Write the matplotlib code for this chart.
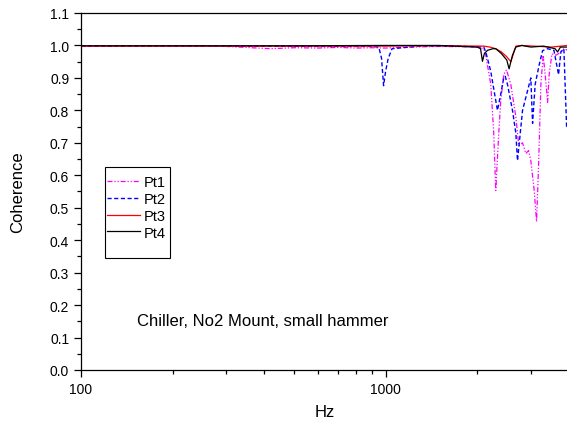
import matplotlib
matplotlib.use("Agg")
import matplotlib.pyplot as plt
from matplotlib.patches import Rectangle
from matplotlib.ticker import FixedLocator, NullFormatter, MultipleLocator, FormatStrFormatter

plt.rcParams['font.family'] = ['Liberation Sans', 'DejaVu Sans']

# ---- data ----
pt1_f = [100, 200, 300, 380, 420, 500, 600, 700, 800, 900, 1000, 1200, 1500, 1800, 2000,
         2100, 2133, 2215, 2265, 2300, 2353, 2388, 2443, 2494, 2577, 2677, 2738, 2816,
         2887, 2946, 2998, 3076, 3131, 3179, 3235, 3291, 3342, 3404, 3444, 3516, 3625,
         3700, 3849, 3970]
pt1_c = [0.997, 0.998, 0.997, 0.992, 0.990, 0.993, 0.992, 0.994, 0.992, 0.993, 0.992,
         0.995, 0.997, 0.996, 0.995,
         0.990, 0.970, 0.880, 0.730, 0.553, 0.730, 0.830, 0.910, 0.925, 0.880, 0.780,
         0.690, 0.700, 0.667, 0.676, 0.645, 0.553, 0.457, 0.630, 0.880, 0.970, 0.910,
         0.825, 0.910, 0.974, 0.970, 0.975, 0.990, 0.985]

pt2_f = [100, 300, 600, 900, 950, 970, 985, 1000, 1020, 1050, 1300, 1700, 2100,
         2133, 2215, 2300, 2330, 2388, 2443, 2470, 2513, 2610, 2677, 2711, 2816, 2924,
         2998, 3038, 3098, 3193, 3277, 3404, 3570, 3697, 3763, 3849, 3929, 3970]
pt2_c = [0.998, 0.998, 0.997, 0.997, 0.995, 0.960, 0.876, 0.920, 0.960, 0.990, 0.998,
         0.998, 0.995,
         0.980, 0.920, 0.830, 0.800, 0.850, 0.900, 0.905, 0.880, 0.800, 0.730, 0.645,
         0.800, 0.860, 0.900, 0.760, 0.880, 0.940, 0.984, 0.990, 0.985, 0.910, 0.980,
         0.990, 0.750, 0.750]

pt3_f = [100, 500, 1000, 1500, 2100, 2200, 2300, 2400, 2500, 2577, 2620, 2677, 2800,
         3500, 3970]
pt3_c = [0.998, 0.998, 0.998, 0.999, 0.998, 0.995, 0.990, 0.980, 0.965, 0.950, 0.970,
         0.998, 1.000, 0.995, 1.000]

pt4_f = [100, 500, 1000, 1500, 2000, 2050, 2080, 2110, 2161, 2250, 2300, 2400, 2500,
         2544, 2610, 2677, 2800, 3000, 3300, 3600, 3670, 3750, 3970]
pt4_c = [0.999, 0.999, 1.000, 1.000, 0.995, 0.990, 0.951, 0.975, 0.985, 0.990, 0.990,
         0.975, 0.955, 0.928, 0.970, 0.995, 1.000, 0.995, 0.998, 0.990, 0.980, 0.995,
         0.995]

labels = ['Pt1', 'Pt2', 'Pt3', 'Pt4']
annotation = 'Chiller, No2 Mount, small hammer'

# ---- figure ----
fig = plt.figure(figsize=(5.67, 4.27), dpi=100)
ax = fig.add_axes([81 / 567, 56 / 427, 1 - 81 / 567 + 0.002, 357 / 427])

l1, = ax.plot(pt1_f, pt1_c, color='#FF00FF', lw=0.9, linestyle=(0, (4, 1.5, 1, 1.5, 1, 1.5)))
l2, = ax.plot(pt2_f, pt2_c, color='#0000FF', lw=1.0, linestyle=(0, (3, 1.8)))
l3, = ax.plot(pt3_f, pt3_c, color='#FF0000', lw=0.9)
l4, = ax.plot(pt4_f, pt4_c, color='#000000', lw=0.9)

ax.set_xscale('log')
ax.set_xlim(100, 3975)
ax.set_ylim(0.0, 1.1)

ax.xaxis.set_major_locator(FixedLocator([100, 1000]))
ax.xaxis.set_minor_locator(FixedLocator([200, 300, 400, 500, 600, 700, 800, 900, 2000, 3000]))
ax.xaxis.set_major_formatter(FormatStrFormatter('%d'))
ax.xaxis.set_minor_formatter(NullFormatter())
ax.yaxis.set_major_locator(MultipleLocator(0.1))
ax.yaxis.set_minor_locator(MultipleLocator(0.05))
ax.yaxis.set_major_formatter(FormatStrFormatter('%.1f'))

ax.tick_params(axis='both', which='major', direction='out', length=5, width=0.9,
               labelsize=10, top=False, right=False)
ax.tick_params(axis='both', which='minor', direction='out', length=3, width=0.9,
               top=False, right=False)
ax.spines['right'].set_visible(False)
for s in ['left', 'bottom', 'top']:
    ax.spines[s].set_linewidth(0.9)

ax.set_xlabel('Hz', fontsize=12, labelpad=6)
ax.set_ylabel('Coherence', fontsize=12, labelpad=18)

# legend frame and entries
ax.add_patch(Rectangle((0.049, 0.314), 0.134, 0.255, transform=ax.transAxes,
                       fill=False, lw=0.8, edgecolor='black', zorder=5))
ax.legend([l1, l2, l3, l4], labels, loc='upper left', bbox_to_anchor=(0.041, 0.563),
          frameon=False, fontsize=10.5, handlelength=2.3, handletextpad=0.2,
          labelspacing=0.2, borderaxespad=0.0)

ax.text(0.115, 0.14, annotation, transform=ax.transAxes, fontsize=12,
        ha='left', va='center')

fig.savefig('out.png', dpi=100)
